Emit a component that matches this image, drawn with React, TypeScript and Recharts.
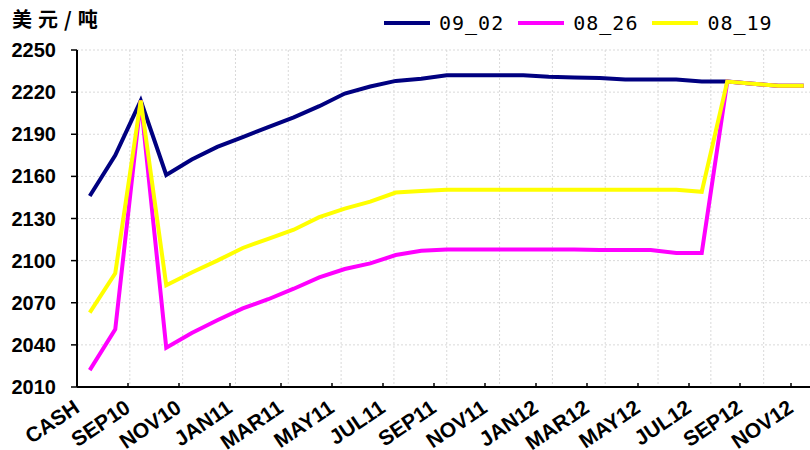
import React from 'react';
import { LineChart, Line, XAxis, YAxis, CartesianGrid } from 'recharts';

// forward curve months (labels shown on every second one)
const categories = [
  'CASH', 'AUG10', 'SEP10', 'OCT10', 'NOV10', 'DEC10', 'JAN11', 'FEB11', 'MAR11', 'APR11',
  'MAY11', 'JUN11', 'JUL11', 'AUG11', 'SEP11', 'OCT11', 'NOV11', 'DEC11', 'JAN12', 'FEB12',
  'MAR12', 'APR12', 'MAY12', 'JUN12', 'JUL12', 'AUG12', 'SEP12', 'OCT12', 'NOV12',
];

const s0902 = [
  2146, 2175, 2214, 2161, 2172, 2181, 2188, 2195, 2202, 2210,
  2219, 2224, 2228, 2229.5, 2232, 2232, 2232, 2232, 2231, 2230.5,
  2230, 2229, 2229, 2229, 2227.5, 2227.5, 2226, 2224.5, 2224.5,
];
const s0826 = [
  2022, 2051, 2214, 2038, 2048.5, 2057.5, 2066, 2072.5, 2080, 2088,
  2094, 2098, 2104, 2107, 2108, 2108, 2108, 2108, 2108, 2108,
  2107.5, 2107.5, 2107.5, 2105.5, 2105.5, 2227.5, 2226, 2224.5, 2224.5,
];
const s0819 = [
  2063, 2091, 2214, 2082.5, 2091.5, 2100, 2109, 2115.5, 2122, 2131,
  2137, 2142, 2148.5, 2149.5, 2150.5, 2150.5, 2150.5, 2150.5, 2150.5, 2150.5,
  2150.5, 2150.5, 2150.5, 2150.5, 2149, 2227.5, 2226, 2224.5, 2224.5,
];

const yTicks = [2010, 2040, 2070, 2100, 2130, 2160, 2190, 2220, 2250];
// boundaries between category pairs, on a 0..29 helper axis
const gridTicks = [2, 4, 6, 8, 10, 12, 14, 16, 18, 20, 22, 24, 26, 28];

const series = [
  { key: 's0902', name: '09_02', color: '#000080' },
  { key: 's0826', name: '08_26', color: '#FF00FF' },
  { key: 's0819', name: '08_19', color: '#FFFF00' },
];

const data = categories.map((c, i) => ({ name: c, s0902: s0902[i], s0826: s0826[i], s0819: s0819[i] }));

const PLOT_LEFT = 77;
const PLOT_W = 739.5;
const HALF_STEP = PLOT_W / categories.length / 2;
const FONT = '"Liberation Sans", Arial, sans-serif';

const XTick = (props: any) => {
  const { x, y, payload } = props;
  const i = payload.index;
  if (i % 2 !== 0) return null;
  const tx = x - 9;
  const ty = y + 24;
  return (
    <g>
      {i > 0 && <line x1={x - HALF_STEP} x2={x - HALF_STEP} y1={y} y2={y - 4} stroke="#000" strokeWidth={1.5} />}
      <text
        x={tx}
        y={ty}
        textAnchor="end"
        transform={`rotate(-34, ${tx}, ${ty})`}
        fontFamily={FONT}
        fontWeight="bold"
        fontSize={21}
        fill="#000"
      >
        {payload.value}
      </text>
    </g>
  );
};

export default function App() {
  return (
    <div style={{ position: 'absolute', left: 0, top: 0, width: 810, height: 450, overflow: 'hidden', background: '#fff' }}>
      <div
        style={{
          position: 'absolute', left: 12, top: 6, fontSize: 20, fontWeight: 'bold', letterSpacing: 6,
          fontFamily: '"Noto Sans CJK SC", sans-serif', color: '#000', lineHeight: '26px',
        }}
      >
        美元/吨
      </div>
      <div style={{ position: 'absolute', left: 384, top: 10, display: 'flex', alignItems: 'center', height: 26 }}>
        {series.map((s) => (
          <div key={s.key} style={{ display: 'flex', alignItems: 'center', marginRight: 14 }}>
            <div style={{ width: 46, height: 4, background: s.color, marginRight: 9 }} />
            <span style={{ fontFamily: '"DejaVu Sans Mono", monospace', fontSize: 20, letterSpacing: 1, color: '#000' }}>{s.name}</span>
          </div>
        ))}
      </div>
      <LineChart width={PLOT_LEFT + PLOT_W + 3.5} height={450} data={data} margin={{ top: 50, right: 3.5, bottom: 0, left: 0 }}>
        <XAxis xAxisId="grid" type="number" domain={[0, categories.length]} ticks={gridTicks} hide />
        <CartesianGrid xAxisId="grid" stroke="#d9d9d9" strokeDasharray="2 2" />
        <XAxis
          dataKey="name"
          interval={0}
          padding={{ left: HALF_STEP, right: HALF_STEP }}
          height={63}
          tickSize={0}
          tickMargin={0}
          tickLine={false}
          axisLine={{ stroke: '#000', strokeWidth: 2 }}
          tick={<XTick />}
        />
        <YAxis
          width={PLOT_LEFT}
          domain={[2010, 2250]}
          ticks={yTicks}
          interval={0}
          tickSize={6}
          tickMargin={15}
          axisLine={{ stroke: '#000', strokeWidth: 2 }}
          tickLine={{ stroke: '#000', strokeWidth: 1.5 }}
          tick={{ fill: '#000', fontSize: 20, fontWeight: 'bold', fontFamily: FONT }}
        />
        {series.map((s) => (
          <Line
            key={s.key}
            type="linear"
            dataKey={s.key}
            name={s.name}
            stroke={s.color}
            strokeWidth={4}
            dot={false}
            isAnimationActive={false}
          />
        ))}
      </LineChart>
    </div>
  );
}
